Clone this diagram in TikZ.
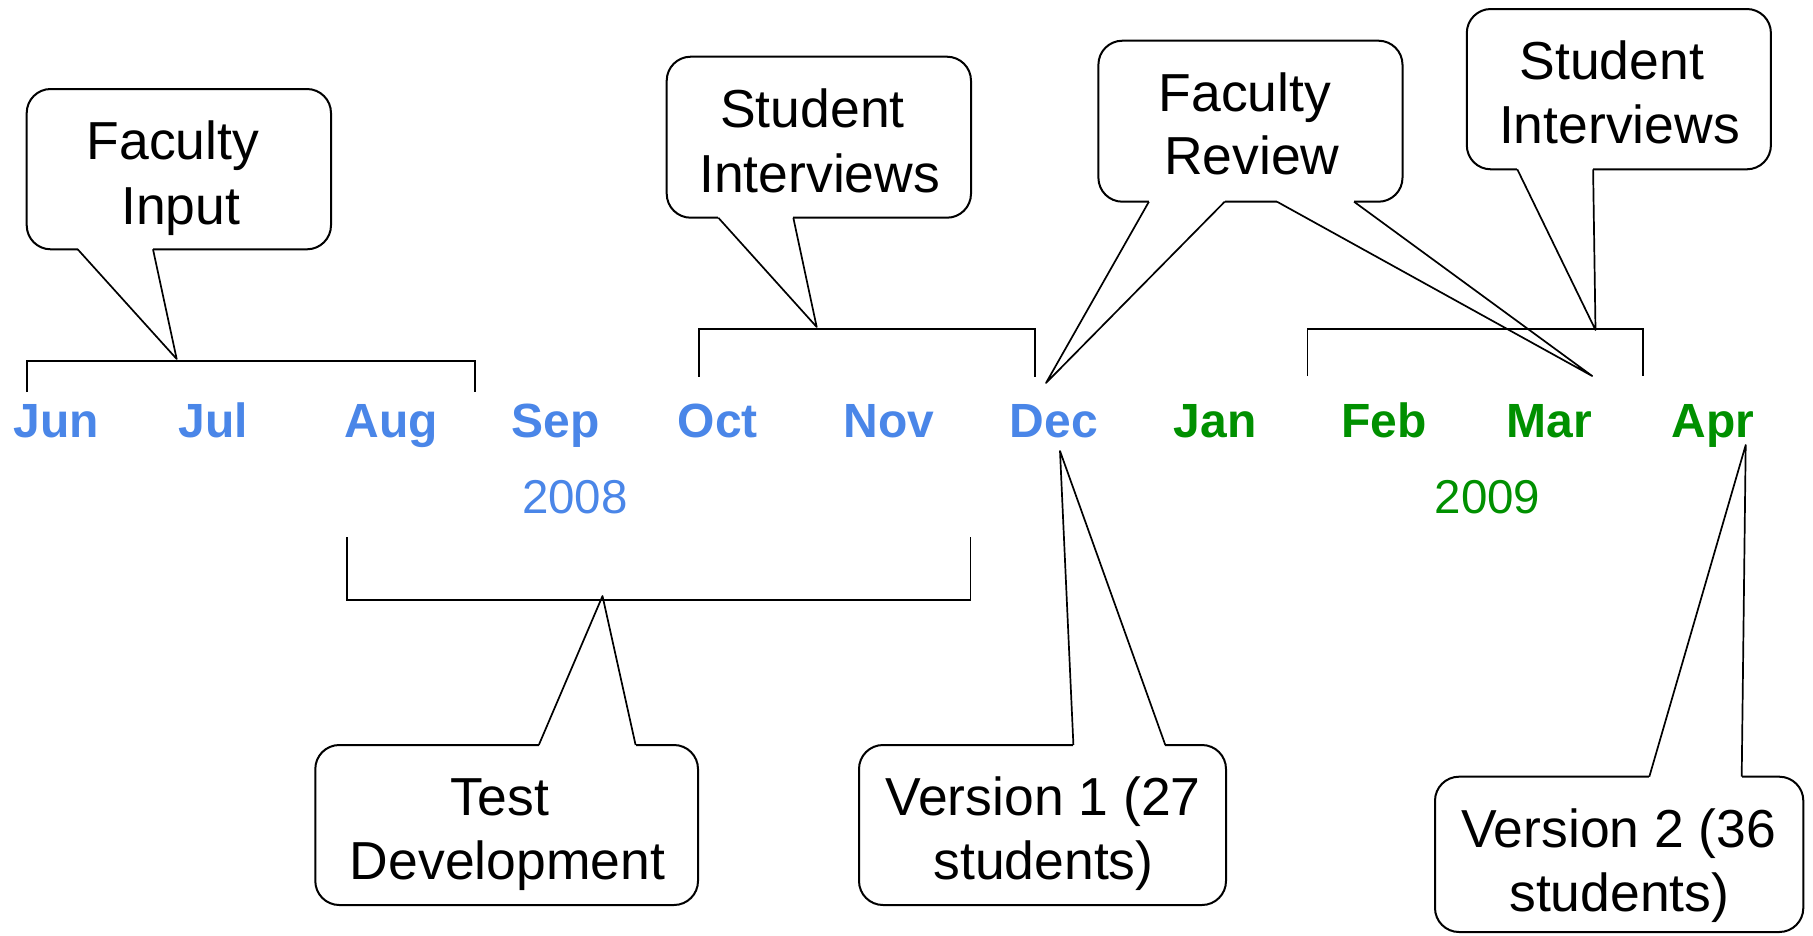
\documentclass[tikz,border=0pt]{standalone}
\usepackage{fontspec}
\setmainfont{Liberation Sans}
\definecolor{mblue}{HTML}{4A86E8}
\definecolor{mgreen}{HTML}{009000}
\begin{document}
\begin{tikzpicture}[x=1pt,y=-1pt,
  bubble/.style={draw, line width=2pt, rounded corners=24pt, fill=white, inner sep=0pt, outer sep=0pt},
  tailline/.style={draw, line width=1.7pt, line join=round},
  bracketline/.style={draw, line width=1.8pt},
  btext/.style={anchor=base, inner sep=0pt, font=\fontsize{53.5}{62}\selectfont},
  mblu/.style={anchor=base, inner sep=0pt, text=mblue, font=\fontsize{48}{56}\selectfont\bfseries},
  mgrn/.style={anchor=base, inner sep=0pt, text=mgreen, font=\fontsize{48}{56}\selectfont\bfseries},
  yblu/.style={anchor=base, inner sep=0pt, text=mblue, font=\fontsize{47.5}{56}\selectfont},
  ygrn/.style={anchor=base, inner sep=0pt, text=mgreen, font=\fontsize{47.5}{56}\selectfont}]
\useasboundingbox (0,0) rectangle (1813,935);
\fill[white] (0,0) rectangle (1813,935);

% ---------- months ----------
\node[mblu] (jun) at (56,437) {Jun};
\node[mblu] (jul) at (213.5,437) {Jul};
\node[mblu] (aug) at (391.5,437) {Aug};
\node[mblu] (sep) at (555.7,437) {Sep};
\node[mblu] (oct) at (717.8,437) {Oct};
\node[mblu] (nov) at (889,437) {Nov};
\node[mblu] (dec) at (1054,437) {Dec};
\node[mgrn] (jan) at (1215,437) {Jan};
\node[mgrn] (feb) at (1383.7,437) {Feb};
\node[mgrn] (mar) at (1549,437) {Mar};
\node[mgrn] (apr) at (1712.7,437) {Apr};
\node[yblu] (y2008) at (575,513.3) {2008};
\node[ygrn] (y2009) at (1487.5,513.3) {2009};

% ---------- brackets ----------
\draw[bracketline] (26.7,392) -- (26.7,361) -- (475,361) -- (475,392);
\draw[bracketline] (699,376.7) -- (699,329) -- (1035,329) -- (1035,376.7);
\draw[bracketline] (1307.4,376) -- (1307.4,329.3) -- (1642.6,329.3) -- (1642.6,376);
\draw[bracketline] (347.2,537.3) -- (347.2,600) -- (970.5,600) -- (970.5,537.3);

% ---------- Faculty Input ----------
\node[bubble, minimum width=304.3pt, minimum height=160.3pt] (fi) at (178.85,169.15) {};
\coordinate (fiA) at (77.7,249.3); \coordinate (fiB) at (153,249.3); \coordinate (fiTip) at (176.7,359);
\fill[white] (77.7,246) rectangle (153,250.8);
\draw[tailline] (fiA) -- (fiTip) -- (fiB);
\node[btext] (fi1) at (173,159.3) {Faculty};
\node[btext] (fi2) at (180.8,224) {Input};

% ---------- Student Interviews (left) ----------
\node[bubble, minimum width=304.3pt, minimum height=161pt] (si) at (818.85,137.2) {};
\coordinate (siA) at (718.3,217.7); \coordinate (siB) at (793.3,217.7); \coordinate (siTip) at (816.7,327);
\fill[white] (718.3,214.4) rectangle (793.3,219.2);
\draw[tailline] (siA) -- (siTip) -- (siB);
\node[btext] (si1) at (812.5,127.7) {Student};
\node[btext] (si2) at (819.7,192.7) {Interviews};

% ---------- Faculty Review ----------
\node[bubble, minimum width=304.1pt, minimum height=161pt] (fr) at (1250.45,121.2) {};
\coordinate (frA) at (1148.9,201.7); \coordinate (frB) at (1224.7,201.7); \coordinate (frTipD) at (1046,383);
\coordinate (frC) at (1277,201.7); \coordinate (frD) at (1354,201.7); \coordinate (frTipM) at (1592.2,376);
\fill[white] (1148.9,198.4) rectangle (1224.7,203.2);
\fill[white] (1277,198.4) rectangle (1354,203.2);
\draw[tailline] (frA) -- (frTipD) -- (frB);
\draw[tailline] (frC) -- (frTipM) -- (frD);
\node[btext] (fr1) at (1244.8,111) {Faculty};
\node[btext] (fr2) at (1251.7,174) {Review};

% ---------- Student Interviews (right) ----------
\node[bubble, minimum width=304.1pt, minimum height=160.3pt] (sj) at (1618.85,89.15) {};
\coordinate (sjA) at (1517.3,169.3); \coordinate (sjB) at (1593.1,169.3); \coordinate (sjTip) at (1595.5,330);
\fill[white] (1517.3,166) rectangle (1593.1,170.8);
\draw[tailline] (sjA) -- (sjTip) -- (sjB);
\node[btext] (sj1) at (1611.8,79.3) {Student};
\node[btext] (sj2) at (1619.4,143.3) {Interviews};

% ---------- Test Development ----------
\node[bubble, minimum width=382.7pt, minimum height=160pt] (td) at (506.65,825) {};
\coordinate (tdA) at (538.8,745); \coordinate (tdB) at (635.6,745); \coordinate (tdTip) at (602.5,596);
\fill[white] (538.8,743.5) rectangle (635.6,748.3);
\draw[tailline] (tdA) -- (tdTip) -- (tdB);
\node[btext] (td1) at (500,815) {Test};
\node[btext] (td2) at (507.6,879) {Development};

% ---------- Version 1 ----------
\node[bubble, minimum width=367pt, minimum height=160pt] (v1) at (1042.5,825) {};
\coordinate (v1A) at (1073.4,745); \coordinate (v1B) at (1165.3,745); \coordinate (v1Tip) at (1060,451);
\fill[white] (1073.4,743.5) rectangle (1165.3,748.3);
\draw[tailline] (v1A) -- (v1Tip) -- (v1B);
\node[btext] (v11) at (1043,815) {Version 1 (27};
\node[btext] (v12) at (1043.5,879) {students)};

% ---------- Version 2 ----------
\node[bubble, minimum width=368.3pt, minimum height=155.3pt] (v2) at (1619.15,854.35) {};
\coordinate (v2A) at (1649.3,776.7); \coordinate (v2B) at (1741.7,776.7); \coordinate (v2Tip) at (1745.7,445);
\fill[white] (1649.3,775.2) rectangle (1741.7,780);
\draw[tailline] (v2A) -- (v2Tip) -- (v2B);
\node[btext] (v21) at (1618.7,847.7) {Version 2 (36};
\node[btext] (v22) at (1619.3,911) {students)};
\end{tikzpicture}
\end{document}
